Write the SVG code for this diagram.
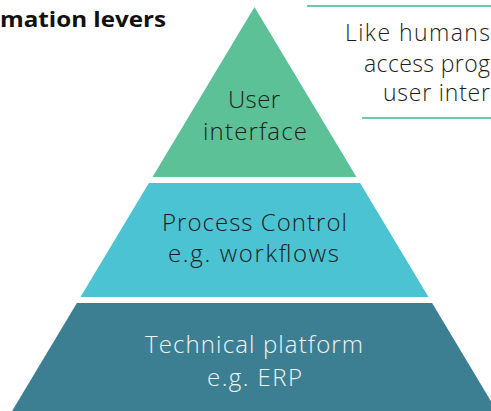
<svg xmlns="http://www.w3.org/2000/svg" width="491" height="411" viewBox="0 0 491 411">
  <style>
    .lbl { font-family: "Open Sans", "Liberation Sans", sans-serif; font-weight: 300; font-size: 24px; text-anchor: middle; }
    .dark { fill: #1c1c1c; }
    .light { fill: #eef5f7; }
    .title { font-family: "Open Sans", "Liberation Sans", sans-serif; font-weight: 700; font-size: 22px; fill: #111; text-anchor: end; }
    .note { font-family: "Open Sans", "Liberation Sans", sans-serif; font-weight: 300; font-size: 23px; fill: #1c1c1c; }
    .rule { stroke: #6cc9a0; stroke-width: 2; fill: none; }
  </style>
  <rect width="491" height="411" fill="#ffffff"/>
  <text class="title" x="166" y="27" textLength="166" lengthAdjust="spacingAndGlyphs">mation levers</text>

  <g id="user-interface">
    <polygon points="254.5,7 152.5,177 356.5,177" fill="#5cc197"/>
    <text class="lbl dark" x="254" y="108" textLength="52">User</text>
    <text class="lbl dark" x="255" y="140" textLength="104">interface</text>
  </g>

  <g id="process-control">
    <polygon points="148.9,183 360.1,183 428.5,297 80.5,297" fill="#4cc3d2"/>
    <text class="lbl dark" x="254.5" y="231" textLength="185">Process Control</text>
    <text class="lbl dark" x="253.5" y="262" textLength="171">e.g. workflows</text>
  </g>

  <g id="technical-platform">
    <polygon points="76.9,303 432.1,303 496.9,411 12.1,411" fill="#3d7f92"/>
    <text class="lbl light" x="254" y="353" textLength="218">Technical platform</text>
    <text class="lbl light" x="254.5" y="386" textLength="95">e.g. ERP</text>
  </g>

  <g id="callout">
    <line class="rule" x1="307" y1="6" x2="491" y2="6"/>
    <line class="rule" x1="362" y1="118" x2="491" y2="118"/>
    <text class="note" x="345" y="41" textLength="145">Like humans</text>
    <text class="note" x="364" y="72" textLength="126">access prog</text>
    <text class="note" x="383" y="101" textLength="107">user inter</text>
  </g>
</svg>
